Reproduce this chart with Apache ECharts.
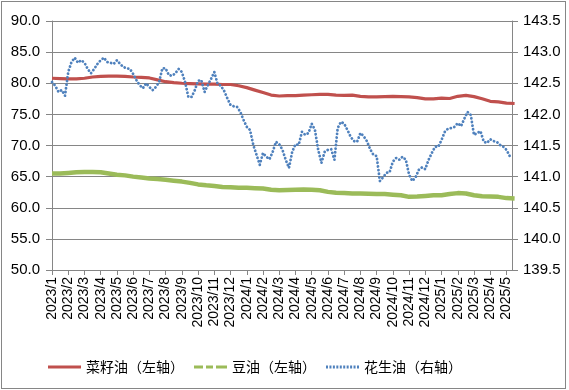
<!DOCTYPE html>
<html><head><meta charset="utf-8">
<script src="https://cdn.jsdelivr.net/npm/echarts@6/dist/echarts.min.js"></script>
<style>
html,body{margin:0;padding:0;background:#fff;}
#c{position:absolute;left:0;top:0;width:569px;height:390px;}
#frame{position:absolute;left:1px;top:1px;width:565px;height:388px;border:1px solid #868686;box-sizing:border-box;pointer-events:none;}
</style></head>
<body>
<div id="c"></div><div id="frame"></div>
<script>
// Month tick labels (x axis: one unit = one month, starting 2023/1)
const X_LABELS = ['2023/1','2023/2','2023/3','2023/4','2023/5','2023/6','2023/7','2023/8','2023/9','2023/10','2023/11','2023/12',
  '2024/1','2024/2','2024/3','2024/4','2024/5','2024/6','2024/7','2024/8','2024/9','2024/10','2024/11','2024/12',
  '2025/1','2025/2','2025/3','2025/4','2025/5'];
const X_END = 28.34;            // data runs to about 2025/5/10
const STEP_OILS = 0.5;          // half-month samples for 菜籽油 / 豆油
const STEP_PEANUT = 0.2;        // ~6-day samples for 花生油

const SERIES_NAMES = ['菜籽油（左轴）','豆油（左轴）','花生油（右轴）'];

// 菜籽油 (left axis)
const RAPESEED = [80.8,80.75,80.7,80.7,80.8,81.0,81.1,81.15,81.15,81.1,81.0,80.95,80.85,80.55,80.25,80.1,80.0,79.95,79.9,79.85,
  79.85,79.8,79.8,79.6,79.3,78.9,78.5,78.1,77.95,78.0,78.0,78.1,78.15,78.2,78.2,78.1,78.05,78.1,77.9,77.8,
  77.8,77.85,77.9,77.85,77.8,77.7,77.5,77.5,77.6,77.55,77.9,78.05,77.85,77.5,77.1,77.0,76.8,76.75];

// 豆油 (left axis)
const SOYBEAN = [65.5,65.5,65.6,65.7,65.75,65.75,65.7,65.5,65.3,65.2,65.0,64.85,64.7,64.6,64.5,64.35,64.2,64.0,63.75,63.6,
  63.5,63.35,63.3,63.2,63.2,63.15,63.1,62.9,62.8,62.85,62.9,62.95,62.9,62.8,62.55,62.4,62.35,62.3,62.3,62.25,
  62.2,62.2,62.1,62.0,61.75,61.8,61.9,62.0,62.0,62.2,62.35,62.3,62.0,61.85,61.8,61.75,61.55,61.5];

// 花生油 (right axis)
const PEANUT = [142.52,142.46,142.36,142.39,142.30,142.68,142.84,142.91,142.83,142.87,
  142.83,142.73,142.66,142.73,142.81,142.87,142.91,142.84,142.83,142.81,
  142.87,142.81,142.76,142.74,142.73,142.65,142.55,142.47,142.42,142.50,
  142.44,142.39,142.44,142.52,142.74,142.74,142.63,142.62,142.66,142.73,
  142.68,142.52,142.28,142.28,142.39,142.54,142.55,142.36,142.47,142.57,
  142.68,142.49,142.46,142.38,142.26,142.15,142.13,142.12,142.04,141.91,
  141.80,141.75,141.51,141.35,141.19,141.38,141.32,141.28,141.40,141.56,
  141.52,141.43,141.27,141.14,141.40,141.52,141.51,141.72,141.67,141.70,
  141.85,141.75,141.43,141.22,141.40,141.43,141.44,141.27,141.78,141.88,
  141.85,141.75,141.64,141.57,141.56,141.70,141.65,141.57,141.44,141.35,
  141.33,140.93,140.99,141.06,141.07,141.24,141.30,141.27,141.32,141.27,
  141.03,140.93,140.99,141.11,141.15,141.12,141.27,141.38,141.48,141.48,
  141.59,141.72,141.77,141.78,141.80,141.86,141.81,141.93,142.04,141.99,
  141.67,141.70,141.73,141.56,141.54,141.60,141.57,141.56,141.51,141.48,
  141.43,141.33,141.32];

const LEFT_MIN = 50, LEFT_MAX = 90, LEFT_STEP = 5;
const RIGHT_MIN = 139.5, RIGHT_MAX = 143.5, RIGHT_STEP = 0.5;

const GRID_COLOR = '#868686';
const NUM_FONT = 'Liberation Sans';

// legend icon shapes (33 x 3 box)
const ICON_SOLID = 'path://M0,0H33V3H0Z';
const ICON_DASH_MARK = 'path://M0,0H9V3H0Z M12,0H19V3H12Z M22,0H33V3H22Z';
let dots = '';
for (let k = 0; k < 10; k++) { const x0 = (k * 3.444).toFixed(2); dots += 'M' + x0 + ',0h2v3h-2z '; }
const ICON_DOTS = 'path://' + dots;

const toPairs = (arr, step) => arr.map((v, i) => [i * step, v]);

const chart = echarts.init(document.getElementById('c'), null, {renderer: 'canvas'});
chart.setOption({
  animation: false,
  backgroundColor: '#fff',
  grid: {left: 52, right: 57, top: 21, bottom: 120, containLabel: false},
  legend: {
    left: 43, top: 355, itemWidth: 33, itemHeight: 3, itemGap: 10,
    textStyle: {fontFamily: 'Noto Sans CJK SC', fontSize: 14, color: '#000', padding: [0, 0, 0, 0]},
    data: [
      {name: SERIES_NAMES[0], icon: ICON_SOLID, itemStyle: {color: '#C0504D'}},
      {name: SERIES_NAMES[1], icon: ICON_DASH_MARK, itemStyle: {color: '#9BBB59'}},
      {name: SERIES_NAMES[2], icon: ICON_DOTS, itemStyle: {color: '#4F81BD'}}
    ]
  },
  xAxis: {
    type: 'value', min: 0, max: X_END, interval: 1,
    axisLine: {show: true, lineStyle: {color: GRID_COLOR}},
    axisTick: {show: true, length: 5, lineStyle: {color: GRID_COLOR}},
    splitLine: {show: false},
    axisLabel: {
      rotate: 90, margin: 7, fontFamily: NUM_FONT, fontSize: 14, color: '#000',
      showMaxLabel: false,
      formatter: v => (Number.isInteger(v) && X_LABELS[v]) ? X_LABELS[v] : ''
    }
  },
  yAxis: [
    {
      type: 'value', min: LEFT_MIN, max: LEFT_MAX, interval: LEFT_STEP,
      axisLine: {show: true, lineStyle: {color: GRID_COLOR}},
      axisTick: {show: true, length: 6, lineStyle: {color: GRID_COLOR}},
      splitLine: {show: true, lineStyle: {color: GRID_COLOR, width: 1}},
      axisLabel: {fontFamily: NUM_FONT, fontSize: 15, color: '#000', margin: 12, formatter: v => v.toFixed(1)}
    },
    {
      type: 'value', position: 'right', min: RIGHT_MIN, max: RIGHT_MAX, interval: RIGHT_STEP,
      axisLine: {show: true, lineStyle: {color: GRID_COLOR}},
      axisTick: {show: true, length: 6, lineStyle: {color: GRID_COLOR}},
      splitLine: {show: false},
      axisLabel: {fontFamily: NUM_FONT, fontSize: 15, color: '#000', margin: 11, formatter: v => v.toFixed(1)}
    }
  ],
  series: [
    {
      name: SERIES_NAMES[0], type: 'line', yAxisIndex: 0, showSymbol: false, symbol: 'none',
      data: toPairs(RAPESEED, STEP_OILS), z: 3,
      lineStyle: {color: '#C0504D', width: 3.2}, itemStyle: {color: '#C0504D'}
    },
    {
      name: SERIES_NAMES[1], type: 'line', yAxisIndex: 0, showSymbol: false, symbol: 'none',
      data: toPairs(SOYBEAN, STEP_OILS), z: 2,
      lineStyle: {color: '#9BBB59', width: 4.5}, itemStyle: {color: '#9BBB59'}
    },
    {
      name: SERIES_NAMES[2], type: 'line', yAxisIndex: 1, showSymbol: false, symbol: 'none',
      data: toPairs(PEANUT, STEP_PEANUT), z: 4,
      lineStyle: {color: '#4F81BD', width: 2.8, type: [0.1, 3.6], cap: 'round'}, itemStyle: {color: '#4F81BD'}
    }
  ]
});
</script>
</body></html>
